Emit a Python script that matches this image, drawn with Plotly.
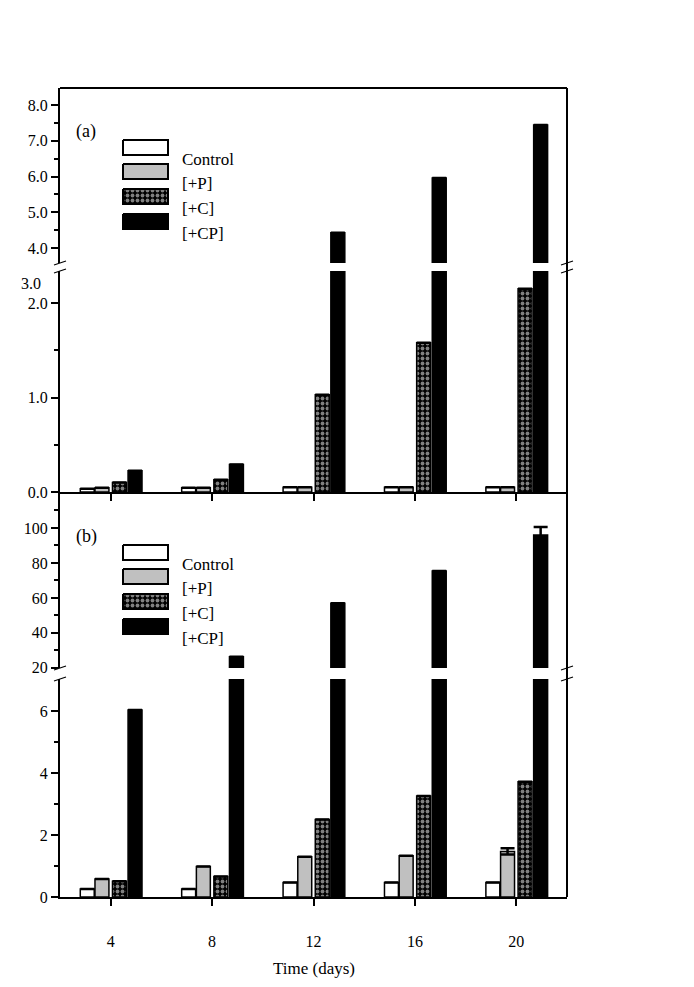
import plotly.graph_objects as go

# ---------------- data ----------------
days = [4, 8, 12, 16, 20]
series_names = ["Control", "[+P]", "[+C]", "[+CP]"]

a_control = [0.035, 0.045, 0.05, 0.05, 0.05]
a_p = [0.045, 0.045, 0.05, 0.05, 0.05]
a_c = [0.10, 0.13, 1.03, 1.58, 2.15]
a_cp = [0.225, 0.29, 4.43, 5.96, 7.44]

b_control = [0.26, 0.26, 0.47, 0.47, 0.47]
b_p = [0.58, 0.98, 1.30, 1.33, 1.47]
b_c = [0.51, 0.66, 2.50, 3.26, 3.72]
b_cp = [6.03, 26.3, 57.0, 75.4, 96.0]

a_err = [0, 0, 0, 0, 0]
b_p_err = [0, 0, 0, 0, 0.1]
b_cp_err = [0, 0, 0, 0, 4.6]

a_low_ticks = [0, 1, 2]
a_low_labels = ["0.0", "1.0", "2.0"]
a_high_ticks = [4, 5, 6, 7, 8]
a_high_labels = ["4.0", "5.0", "6.0", "7.0", "8.0"]
b_low_ticks = [0, 2, 4, 6]
b_high_ticks = [20, 40, 60, 80, 100]

# ---------------- styles ----------------
FONT = "Liberation Serif"
PAT = dict(shape=".", fgcolor="white", bgcolor="black", size=5, solidity=0.45)
fills = [
    dict(color="white"),
    dict(color="#c0c0c0"),
    dict(color="black", pattern=PAT),
    dict(color="black"),
]
offsets = [-1.2, -0.62, 0.07, 0.685]
bar_w = 0.55

# page body has an 8px margin: work in window pixels, shift by OFF
OFF = 8
W, HT = 694 - OFF, 987 - OFF

fig = go.Figure()

panels = [
    dict(x="x2", ys=["y3", "y4"], vals=[a_control, a_p, a_c, a_cp],
         errs=[a_err, a_err, a_err, a_err]),
    dict(x="x", ys=["y", "y2"], vals=[b_control, b_p, b_c, b_cp],
         errs=[a_err, b_p_err, a_err, b_cp_err]),
]

for p in panels:
    for yax in p["ys"]:
        for i, name in enumerate(series_names):
            m = fills[i]
            marker = dict(color=m["color"], line=dict(color="black", width=1.5))
            if "pattern" in m:
                marker["pattern"] = m["pattern"]
            fig.add_trace(go.Bar(
                x=days, y=p["vals"][i], name=name, xaxis=p["x"], yaxis=yax,
                offset=offsets[i], width=bar_w, marker=marker, showlegend=False,
                error_y=dict(type="data", array=p["errs"][i], visible=True,
                             color="black", thickness=2.5, width=7),
            ))

# ---------------- layout geometry (window pixels) ----------------
L, R, T, B = 60, 567, 88, 897
H = B - T


def frac(px):
    return (B - px) / H


tickfont = dict(family=FONT, size=16, color="black")
common_y = dict(showline=True, linecolor="black", linewidth=2, ticks="outside",
                ticklen=7, tickwidth=2, tickcolor="black", showgrid=False,
                zeroline=False, tickfont=tickfont, fixedrange=True)
minor_style = dict(ticks="outside", ticklen=4, tickwidth=2, tickcolor="black")

fig.update_layout(
    width=W, height=HT,
    margin=dict(l=L - OFF, r=694 - R, t=T - OFF, b=987 - B),
    paper_bgcolor="white", plot_bgcolor="rgba(0,0,0,0)",
    barmode="overlay", showlegend=False,
    font=dict(family=FONT, color="black"),
    xaxis=dict(domain=[0, 1], range=[2, 22], anchor="y", tickvals=days,
               ticktext=[str(d) for d in days], showline=True, linecolor="black",
               linewidth=2, ticks="outside", ticklen=7, tickwidth=2,
               tickcolor="black", showgrid=False, zeroline=False,
               tickfont=tickfont, ticklabelstandoff=22, fixedrange=True),
    xaxis2=dict(domain=[0, 1], range=[2, 22], anchor="y3", matches="x",
                tickvals=days, showticklabels=False, showline=True,
                linecolor="black", linewidth=2, ticks="outside", ticklen=7,
                tickwidth=2, tickcolor="black", showgrid=False, zeroline=False),
    yaxis=dict(domain=[0, frac(679)], range=[0, (897 - 679) / 31], anchor="x",
               tickvals=b_low_ticks, minor=dict(tickvals=[1, 3, 5], **minor_style),
               **common_y),
    yaxis2=dict(domain=[frac(668), frac(493)], range=[19.9, 120], anchor="x",
                tickvals=b_high_ticks,
                minor=dict(tickvals=[30, 50, 70, 90, 110], **minor_style),
                **common_y),
    yaxis3=dict(domain=[frac(492), frac(271)], range=[0, (492 - 271) / 94.5],
                anchor="x2", tickvals=a_low_ticks, ticktext=a_low_labels,
                minor=dict(tickvals=[0.5, 1.5], **minor_style),
                **common_y),
    yaxis4=dict(domain=[frac(263), 1], range=[4 - 15 / 35.75, 4 + 160 / 35.75],
                anchor="x2", tickvals=a_high_ticks, ticktext=a_high_labels,
                minor=dict(tickvals=[4.5, 5.5, 6.5, 7.5], **minor_style),
                **common_y),
    # overlay axes in window-pixel units for legend patches
    xaxis5=dict(domain=[0, 1], range=[L, R], anchor="y5", visible=False, fixedrange=True),
    yaxis5=dict(domain=[0, 1], range=[B, T], anchor="x5", visible=False, fixedrange=True),
)

# ---------------- legend patches ----------------
legend_tops = [
    [140, 164, 189, 214],
    [545, 569, 594, 619],
]
for tops in legend_tops:
    for i, top in enumerate(tops):
        x0, x1, y0, y1 = 123, 168, top, top + 15
        kw = dict(x=[x0, x1, x1, x0, x0], y=[y0, y0, y1, y1, y0], mode="lines",
                  fill="toself", fillcolor=fills[i]["color"],
                  line=dict(color="black", width=2), xaxis="x5", yaxis="y5",
                  showlegend=False, hoverinfo="skip")
        if "pattern" in fills[i]:
            kw["fillpattern"] = PAT
        fig.add_trace(go.Scatter(**kw))

annotations = []
for tops in legend_tops:
    for i, top in enumerate(tops):
        annotations.append(dict(text=series_names[i], x=180, y=top + 19, xref="x5",
                                yref="y5", xanchor="left", yanchor="middle",
                                showarrow=False, font=dict(family=FONT, size=17)))
annotations += [
    dict(text="(a)", x=86, y=131, xref="x5", yref="y5", showarrow=False,
         font=dict(family=FONT, size=18)),
    dict(text="(b)", x=86, y=536, xref="x5", yref="y5", showarrow=False,
         font=dict(family=FONT, size=18)),
    dict(text="3.0", x=-0.033, y=frac(283), xref="paper", yref="paper",
         xanchor="right", yanchor="middle", showarrow=False,
         font=dict(family=FONT, size=16)),
    dict(text="Time (days)", x=0.5, y=frac(968), xref="paper", yref="paper",
         xanchor="center", yanchor="middle", showarrow=False,
         font=dict(family=FONT, size=17)),
]
fig.update_layout(annotations=annotations)

# ---------------- frame and axis-break marks ----------------
shapes = [
    dict(type="line", xref="paper", yref="paper", x0=1, x1=1, y0=0, y1=1,
         line=dict(color="black", width=2)),
    dict(type="line", xref="paper", yref="paper", x0=0, x1=1, y0=1, y1=1,
         line=dict(color="black", width=2)),
]
for gy in [263, 271, 668, 679]:
    for xa in [0, 1]:
        shapes.append(dict(type="line", xref="paper", yref="paper",
                           xsizemode="pixel", xanchor=xa, x0=-6, x1=6,
                           ysizemode="pixel", yanchor=frac(gy), y0=-2, y1=2,
                           line=dict(color="black", width=1.2)))
fig.update_layout(shapes=shapes)

fig.write_html("out.html")
